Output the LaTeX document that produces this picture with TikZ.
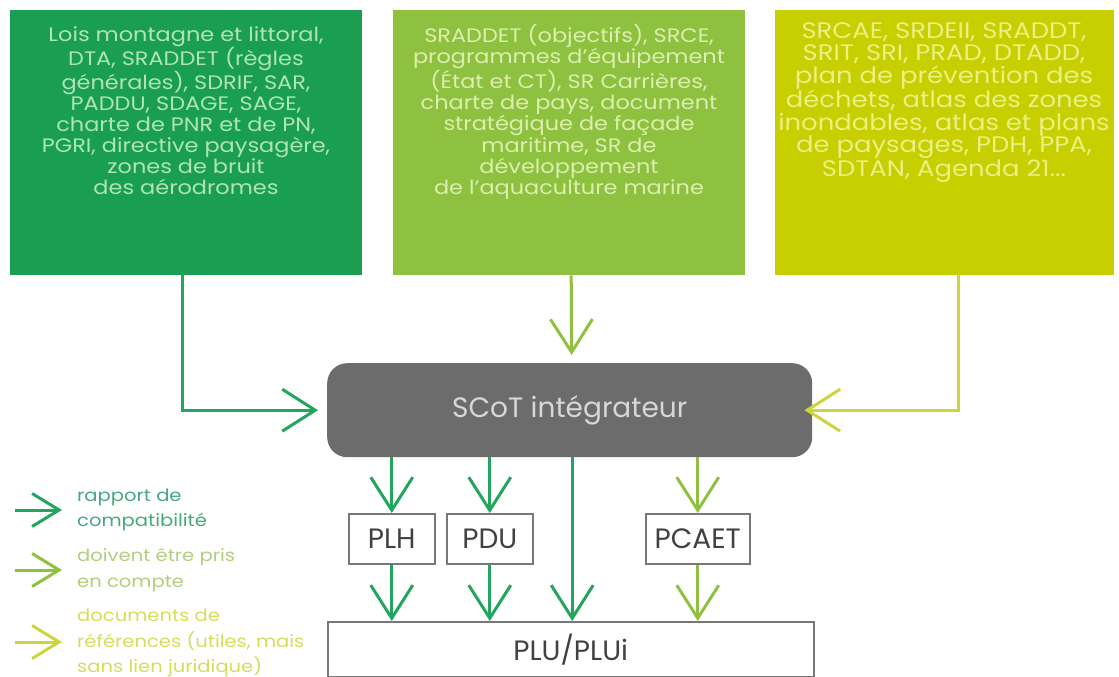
\documentclass[tikz,border=0pt]{standalone}
\usepackage{fontspec}
\setmainfont{Poppins}
\newfontfamily\widefont{Poppins}[FakeStretch=1.15]
\usetikzlibrary{arrows.meta}
\definecolor{boxA}{RGB}{26,158,82}
\definecolor{boxB}{RGB}{141,193,63}
\definecolor{boxC}{RGB}{200,207,0}
\definecolor{txtA}{RGB}{175,228,185}
\definecolor{txtB}{RGB}{222,238,175}
\definecolor{txtC}{RGB}{235,240,130}
\definecolor{arrA}{RGB}{34,165,95}
\definecolor{arrB}{RGB}{145,192,65}
\definecolor{arrC}{RGB}{205,212,60}
\definecolor{scotC}{RGB}{108,108,108}
\definecolor{scotT}{RGB}{215,215,215}
\definecolor{legA}{RGB}{70,168,125}
\definecolor{legB}{RGB}{178,206,125}
\definecolor{legC}{RGB}{212,222,90}
\definecolor{smallT}{RGB}{65,65,65}
\definecolor{smallD}{RGB}{120,120,120}
\begin{document}
\begin{tikzpicture}[x=1pt,y=-1pt,
  topbox/.style={minimum height=265pt, anchor=north west, inner sep=0pt, draw=none},
  toptext/.style={font=\widefont\fontsize{19.5}{21}\selectfont, align=center, anchor=north, inner sep=0pt},
  smallbox/.style={draw=smallD, line width=1.5pt, fill=white, minimum height=50pt, anchor=north west, inner sep=0pt, text=smallT, font=\fontsize{28}{30}\selectfont},
  conn/.style={line width=3pt, -{Straight Barb[length=33pt,width=42pt]}},
  legarrow/.style={line width=3pt, -{Straight Barb[length=27pt,width=33pt]}},
  legtext/.style={font=\widefont\fontsize{17}{25.5}\selectfont, align=left, anchor=west, inner sep=0pt}
]
\useasboundingbox (0,0) rectangle (1119,677);

% top boxes
\node[topbox, fill=boxA, minimum width=352pt] (b1) at (10,10) {};
\node[topbox, fill=boxB, minimum width=352pt] (b2) at (393,10) {};
\node[topbox, fill=boxC, minimum width=339pt] (b3) at (775,10) {};

\node[toptext, text=txtA] (t1) at (186,26) {Lois montagne et littoral,\\DTA, SRADDET (règles\\générales), SDRIF, SAR,\\PADDU, SDAGE, SAGE,\\charte de PNR et de PN,\\PGRI, directive paysagère,\\zones de bruit\\des aérodromes};
\node[toptext, text=txtB, font=\widefont\fontsize{19.5}{21.3}\selectfont] (t2) at (569,24) {SRADDET (objectifs), SRCE,\\programmes d’équipement\\(État et CT), SR Carrières,\\charte de pays, document\\stratégique de façade\\maritime, SR de\\développement\\de l’aquaculture marine};
\node[toptext, text=txtC, font=\widefont\fontsize{22.5}{22.6}\selectfont] (t3) at (944,22) {SRCAE, SRDEII, SRADDT,\\SRIT, SRI, PRAD, DTADD,\\plan de prévention des\\déchets, atlas des zones\\inondables, atlas et plans\\de paysages, PDH, PPA,\\SDTAN, Agenda 21...};

% SCoT
\node[fill=scotC, rounded corners=20pt, minimum width=485pt, minimum height=94pt, anchor=north west, inner sep=0pt, text=scotT, font=\fontsize{28}{30}\selectfont] (scot) at (327,363) {SCoT intégrateur};

% small boxes
\node[smallbox, minimum width=86pt] (plh) at (348,513) {PLH};
\node[smallbox, minimum width=86pt] (pdu) at (446,513) {PDU};
\node[smallbox, minimum width=104pt] (pcaet) at (645,513) {PCAET};
\node[smallbox, minimum width=486pt, minimum height=55pt] (plu) at (327,621) {PLU/PLUi};

% arrows from top boxes
\draw[arrA, conn, shorten >=9pt] ([xshift=-4pt]b1.south) |- (scot.west);
\draw[arrB, conn, shorten >=8pt] ([xshift=2pt]b2.south) -- ([xshift=2pt]scot.north);
\draw[arrC, conn, shorten >=-8pt] ([xshift=13.5pt]b3.south) |- (scot.east);

% arrows down
\draw[arrA, conn] (scot.south -| plh.north) -- (plh.north);
\draw[arrA, conn] (scot.south -| pdu.north) -- (pdu.north);
\draw[arrB, conn] (scot.south -| pcaet.north) -- (pcaet.north);
\draw[arrA, conn] ([xshift=2.5pt]scot.south) -- ([xshift=2.5pt]scot.south |- plu.north);
\draw[arrA, conn] (plh.south) -- (plh.south |- plu.north);
\draw[arrA, conn] (pdu.south) -- (pdu.south |- plu.north);
\draw[arrB, conn] (pcaet.south) -- (pcaet.south |- plu.north);

% legend
\coordinate (l1s) at (15,510); \coordinate (l1e) at (62,510);
\coordinate (l2s) at (15,570); \coordinate (l2e) at (62,570);
\coordinate (l3s) at (15,642); \coordinate (l3e) at (62,642);
\draw[arrA, legarrow] (l1s) -- (l1e);
\draw[arrB, legarrow] (l2s) -- (l2e);
\draw[arrC, legarrow] (l3s) -- (l3e);
\node[legtext, text=legA] (g1) at (77,510) {rapport de\\compatibilité};
\node[legtext, text=legB] (g2) at (77,570) {doivent être pris\\en compte};
\node[legtext, text=legC] (g3) at (77,643) {documents de\\références (utiles, mais\\sans lien juridique)};
\end{tikzpicture}
\end{document}
